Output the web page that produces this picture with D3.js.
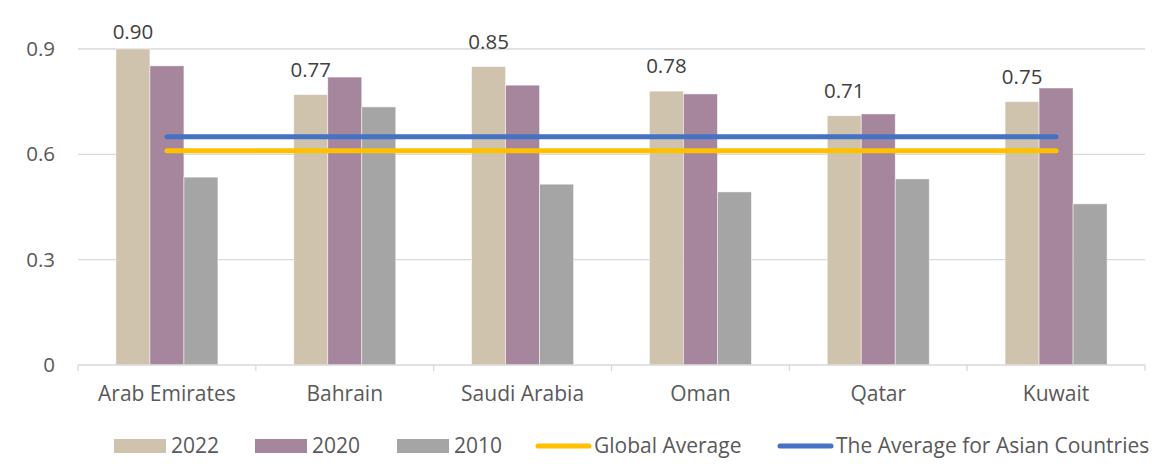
<!DOCTYPE html>
<html>
<head>
<meta charset="utf-8">
<script src="https://cdn.jsdelivr.net/npm/d3@7"></script>
<style>
  body { margin: 0; background: #fff; }
  svg text { font-family: "Open Sans", sans-serif; }
</style>
</head>
<body>
<div class="chart-wrapper"></div>
<script>
const categories = ['Arab Emirates', 'Bahrain', 'Saudi Arabia', 'Oman', 'Qatar', 'Kuwait'];
const years = ['2022', '2020', '2010'];
const values2022 = [0.90, 0.77, 0.85, 0.78, 0.71, 0.75];
const values2020 = [0.852, 0.82, 0.797, 0.772, 0.715, 0.789];
const values2010 = [0.535, 0.735, 0.515, 0.493, 0.53, 0.459];
const globalAverage = 0.61;
const asianAverage = 0.65;
const yTicks = [0, 0.3, 0.6, 0.9];

const width = 1170, height = 476;
const margin = { top: 49, right: 25, bottom: 111, left: 78 };
const colors = { '2022': '#cfc3ad', '2020': '#a6869d', '2010': '#a5a5a5' };
const gridColor = '#d9d9d9';
const textColor = '#595959';

const series = { '2022': values2022, '2020': values2020, '2010': values2010 };

const svg = d3.select('.chart-wrapper')
  .append('svg')
  .attr('width', width)
  .attr('height', height);

const x0 = d3.scaleBand()
  .domain(categories)
  .range([margin.left, width - margin.right]);

const x1 = d3.scaleBand()
  .domain(years)
  .range([0, 102]);

const y = d3.scaleLinear()
  .domain([0, 0.9])
  .range([height - margin.bottom, margin.top]);

// gridlines
svg.append('g')
  .selectAll('line')
  .data(yTicks.filter(t => t > 0))
  .enter()
  .append('line')
  .attr('x1', margin.left)
  .attr('x2', width - margin.right)
  .attr('y1', d => y(d))
  .attr('y2', d => y(d))
  .attr('stroke', gridColor)
  .attr('stroke-width', 1.3);

// y axis labels
const yAxis = d3.axisLeft(y).tickValues(yTicks).tickSize(0).tickPadding(23)
  .tickFormat(d => d === 0 ? '0' : d3.format('.1f')(d));
const ya = svg.append('g')
  .attr('transform', 'translate(' + margin.left + ',0)')
  .call(yAxis);
ya.select('.domain').remove();
ya.selectAll('text')
  .attr('fill', textColor)
  .style('font-size', '20.5px');

// bars
const groups = svg.append('g')
  .selectAll('g')
  .data(categories)
  .enter()
  .append('g')
  .attr('transform', d => 'translate(' + (x0(d) + (x0.bandwidth() - 102) / 2) + ',0)');

groups.selectAll('rect')
  .data((d, i) => years.map(k => ({ key: k, value: series[k][i] })))
  .enter()
  .append('rect')
  .attr('x', d => x1(d.key))
  .attr('y', d => y(d.value))
  .attr('width', x1.bandwidth())
  .attr('height', d => y(0) - y(d.value))
  .attr('fill', d => colors[d.key])
  .attr('stroke', '#fff')
  .attr('stroke-opacity', 0.6)
  .attr('stroke-width', 0.8);

// x axis
const xAxis = d3.axisBottom(x0).tickSize(0).tickPadding(21);
const xa = svg.append('g')
  .attr('transform', 'translate(0,' + y(0) + ')')
  .call(xAxis);
xa.select('.domain').remove();
xa.selectAll('text')
  .attr('fill', textColor)
  .style('font-size', '21px');

svg.append('line')
  .attr('x1', margin.left).attr('x2', width - margin.right)
  .attr('y1', y(0)).attr('y2', y(0))
  .attr('stroke', gridColor).attr('stroke-width', 1.3);

const boundaries = categories.map(c => x0(c)).concat([x0.range()[1]]);
svg.append('g')
  .selectAll('line')
  .data(boundaries)
  .enter()
  .append('line')
  .attr('x1', d => d).attr('x2', d => d)
  .attr('y1', y(0)).attr('y2', y(0) + 6)
  .attr('stroke', gridColor).attr('stroke-width', 1.3);

// average lines
const centers = [x0(categories[0]) + x0.bandwidth() / 2, x0(categories[categories.length - 1]) + x0.bandwidth() / 2];
[[globalAverage, '#ffc000'], [asianAverage, '#4472c4']].forEach(([v, c]) => {
  svg.append('line')
    .attr('x1', centers[0]).attr('x2', centers[1])
    .attr('y1', y(v)).attr('y2', y(v))
    .attr('stroke', c)
    .attr('stroke-width', 5)
    .attr('stroke-linecap', 'round');
});

// data labels on 2022
svg.append('g')
  .selectAll('text')
  .data(values2022)
  .enter()
  .append('text')
  .attr('x', (d, i) => x0(categories[i]) + (x0.bandwidth() - 102) / 2 + x1('2022') + x1.bandwidth() / 2)
  .attr('y', d => Math.max(y(d) - 18, margin.top - 10))
  .attr('text-anchor', 'middle')
  .attr('fill', '#404040')
  .style('font-size', '20.5px')
  .text(d => d3.format('.2f')(d));

// legend
const legendItems = [
  { label: '2022', type: 'rect', color: colors['2022'], x: 114 },
  { label: '2020', type: 'rect', color: colors['2020'], x: 255 },
  { label: '2010', type: 'rect', color: colors['2010'], x: 397 },
  { label: 'Global Average', type: 'line', color: '#ffc000', x: 536 },
  { label: 'The Average for Asian Countries', type: 'line', color: '#4472c4', x: 778 }
];
const legendY = 446;
const legend = svg.append('g')
  .selectAll('g')
  .data(legendItems)
  .enter()
  .append('g')
  .attr('transform', d => 'translate(' + d.x + ',' + legendY + ')');

legend.filter(d => d.type === 'rect')
  .append('rect')
  .attr('x', 0).attr('y', -7)
  .attr('width', 52).attr('height', 14)
  .attr('fill', d => d.color);

legend.filter(d => d.type === 'line')
  .append('line')
  .attr('x1', 2).attr('x2', 53)
  .attr('y1', 0).attr('y2', 0)
  .attr('stroke', d => d.color)
  .attr('stroke-width', 5)
  .attr('stroke-linecap', 'round');

legend.append('text')
  .attr('x', d => d.type === 'rect' ? 57 : 58)
  .attr('y', 0)
  .attr('dy', '0.35em')
  .attr('fill', textColor)
  .style('font-size', '21px')
  .text(d => d.label);
</script>
</body>
</html>
